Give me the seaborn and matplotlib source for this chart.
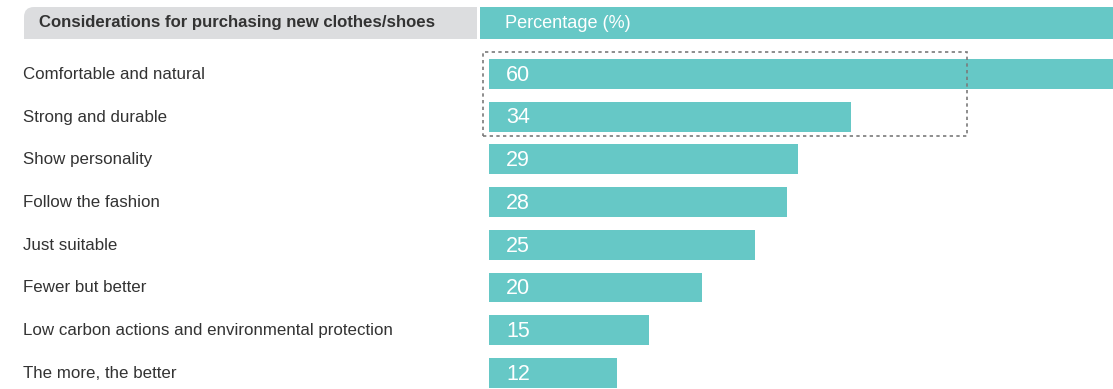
import matplotlib
matplotlib.use("Agg")
import matplotlib.pyplot as plt
from matplotlib.patches import Rectangle, FancyBboxPatch
from matplotlib.transforms import blended_transform_factory
import seaborn as sns
import pandas as pd

# Survey data
considerations = [
    "Comfortable and natural",
    "Strong and durable",
    "Show personality",
    "Follow the fashion",
    "Just suitable",
    "Fewer but better",
    "Low carbon actions and environmental protection",
    "The more, the better",
]
percentages = [60, 34, 29, 28, 25, 20, 15, 12]
header_left = "Considerations for purchasing new clothes/shoes"
header_right = "Percentage (%)"

TEAL = "#66C8C6"
GREY = "#DCDDDF"
TEXT = "#333333"

sns.set_theme(style="white")
plt.rcParams["font.family"] = ["Liberation Sans", "DejaVu Sans"]

W, H, DPI = 1113, 389, 100
fig = plt.figure(figsize=(W / DPI, H / DPI), dpi=DPI)
fig.patch.set_facecolor("white")


def px(x, y):
    """Pixel position (from top-left) -> inches (from bottom-left)."""
    return x / DPI, (H - y) / DPI


inch = fig.dpi_scale_trans

# Bar axes
ax = fig.add_axes([480 / W, 0, 633 / W, 344 / H])
df = pd.DataFrame({"item": considerations, "pct": percentages})
sns.barplot(data=df, x="pct", y="item", orient="h", color=TEAL,
            saturation=1, width=0.70, ax=ax, edgecolor="none")
pitch = 42.71
ax.set_xlim(-9 / 10.65, 624 / 10.65)
ax.set_ylim((389 - 74) / pitch, (45 - 74) / pitch)
ax.axis("off")

# Value labels inside the bars and category labels on the left
tx_num = blended_transform_factory(fig.transFigure, ax.transData)
for i, (name, v) in enumerate(zip(considerations, percentages)):
    ax.text(506 / W, i + 0.03, f"{v}", transform=tx_num, ha="left",
            va="center", color="white", fontsize=15.5, clip_on=False)
    ax.text(23 / W, i + 0.01, name, transform=tx_num, ha="left", va="center",
            color=TEXT, fontsize=12.2, clip_on=False)

# Header: grey block with rounded top-left corner
x0, y_top = px(24, 7)
x1, y_bot = px(477, 39)
fig.patches.append(FancyBboxPatch((x0, y_bot), x1 - x0, y_top - y_bot,
                                  boxstyle="round,pad=0,rounding_size=0.10",
                                  transform=inch, facecolor=GREY,
                                  edgecolor="none", figure=fig))
fig.patches.append(Rectangle((x0, y_bot), x1 - x0, 0.16, transform=inch,
                             facecolor=GREY, edgecolor="none", figure=fig))
fig.patches.append(Rectangle((x0 + 0.16, y_bot), x1 - x0 - 0.16, y_top - y_bot,
                             transform=inch, facecolor=GREY, edgecolor="none",
                             figure=fig))
# Header: teal block
hx0, _ = px(480, 7)
fig.patches.append(Rectangle((hx0, y_bot), W / DPI - hx0, y_top - y_bot,
                             transform=inch, facecolor=TEAL, edgecolor="none",
                             figure=fig))
ymid = (y_top + y_bot) / 2
fig.text(px(39, 0)[0], ymid, header_left, transform=inch, ha="left",
         va="center", color=TEXT, fontsize=12.05, fontweight="bold")
fig.text(px(505, 0)[0], ymid, header_right, transform=inch, ha="left",
         va="center", color="white", fontsize=13.1)

# Dotted highlight frame around the top two rows
bx0, by_top = px(482.5, 52.5)
bx1, by_bot = px(967, 136)
fig.patches.append(Rectangle((bx0, by_bot), bx1 - bx0, by_top - by_bot,
                             transform=inch, facecolor="none",
                             edgecolor="#7A7A7A", linewidth=1.2,
                             linestyle=(0, (2, 2)), figure=fig, zorder=5))

fig.savefig("out.png", dpi=DPI)
